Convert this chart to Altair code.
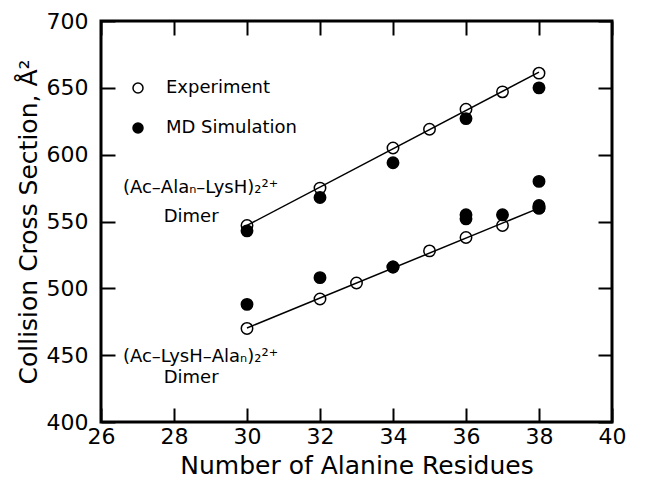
import altair as alt
import pandas as pd

# ---- data ----
residues_upper_exp = [30, 32, 34, 35, 36, 37, 38]
ccs_upper_exp = [547, 575, 605, 619, 634, 647, 661]
residues_upper_md = [30, 32, 34, 36, 38]
ccs_upper_md = [543, 568, 594, 627, 650]
residues_lower_exp = [30, 32, 33, 34, 35, 36, 37, 38]
ccs_lower_exp = [470, 492, 504, 516, 528, 538, 547, 560]
residues_lower_md = [30, 32, 34, 36, 36, 37, 38, 38, 38]
ccs_lower_md = [488, 508, 516, 552, 555, 555, 580, 560, 562]

series_names = ["Experiment", "MD Simulation"]
x_ticks = [26, 28, 30, 32, 34, 36, 38, 40]
y_ticks = [400, 450, 500, 550, 600, 650, 700]

ann_text = ["(Ac\u2013Ala\u2099\u2013LysH)\u2082\u00b2\u207a", "Dimer",
            "(Ac\u2013LysH\u2013Ala\u2099)\u2082\u00b2\u207a", "Dimer"]
ann_x = [26.6, 28.47, 26.6, 28.47]
ann_y = [575, 553, 448.6, 433]
ann_align = ["left", "center", "left", "center"]

rows = []
for xs, ys, s, g in [
    (residues_upper_md, ccs_upper_md, "MD Simulation", "upper"),
    (residues_lower_md, ccs_lower_md, "MD Simulation", "lower"),
    (residues_upper_exp, ccs_upper_exp, "Experiment", "upper"),
    (residues_lower_exp, ccs_lower_exp, "Experiment", "lower"),
]:
    for x, y in zip(xs, ys):
        rows.append({"residues": x, "ccs": y, "series": s, "group": g})
df = pd.DataFrame(rows)

ann_df = pd.DataFrame({"text": ann_text, "x": ann_x, "y": ann_y, "align": ann_align})

FONT = "DejaVu Sans"
W, H = 511, 401
TL = 14

xscale = alt.Scale(domain=[26, 40], nice=False, zero=False)
yscale = alt.Scale(domain=[400, 700], nice=False, zero=False)

common = dict(grid=False, domain=False, ticks=True, tickColor="black", tickWidth=2,
              tickOpacity=1, tickSize=TL, offset=-TL, labelFlush=False, zindex=5)

x_axis = alt.Axis(values=x_ticks, orient="bottom",
                  labelFont=FONT, labelFontSize=22, labelColor="black", labelPadding=4,
                  title="Number of Alanine Residues", titleFont=FONT, titleFontSize=25,
                  titleFontWeight="normal", titleColor="black", titlePadding=6, **common)
y_axis = alt.Axis(values=y_ticks, orient="left",
                  labelFont=FONT, labelFontSize=22, labelColor="black", labelPadding=13,
                  title="Collision Cross Section, \u00c5\u00b2", titleFont=FONT, titleFontSize=25,
                  titleFontWeight="normal", titleColor="black", titlePadding=5, **common)
x_axis_top = alt.Axis(values=x_ticks, orient="top", labels=False, title=None, **common)
y_axis_right = alt.Axis(values=y_ticks, orient="right", labels=False, title=None, **common)

base = alt.Chart(df)

points = base.mark_point(shape="circle", filled=True, stroke="black", strokeWidth=1.5,
                         size=130, opacity=1, fillOpacity=1).encode(
    x=alt.X("residues:Q", scale=xscale, axis=x_axis),
    y=alt.Y("ccs:Q", scale=yscale, axis=y_axis),
    fill=alt.Fill("series:N", scale=alt.Scale(domain=series_names, range=["transparent", "black"]),
                  legend=alt.Legend(title=None, orient="none", legendX=28, legendY=58,
                                    labelFont=FONT, labelFontSize=18, labelColor="black",
                                    symbolType="circle", symbolSize=100,
                                    symbolStrokeColor="black", symbolStrokeWidth=1.5,
                                    labelOffset=19, rowPadding=22, padding=0)),
    order=alt.Order("series:N", sort="descending"),
)

fit = base.transform_filter(alt.datum.series == "Experiment").transform_regression(
    "residues", "ccs", groupby=["group"]
).mark_line(color="black", strokeWidth=1.5).encode(
    x=alt.X("residues:Q", scale=xscale, axis=x_axis_top),
    y=alt.Y("ccs:Q", scale=yscale, axis=y_axis_right),
    detail="group:N",
)

ann_left = alt.Chart(ann_df).transform_filter(alt.datum.align == "left").mark_text(
    font=FONT, fontSize=18, color="black", baseline="middle", align="left").encode(
    x=alt.X("x:Q", scale=xscale, axis=None),
    y=alt.Y("y:Q", scale=yscale, axis=None),
    text="text:N",
)
ann_center = alt.Chart(ann_df).transform_filter(alt.datum.align == "center").mark_text(
    font=FONT, fontSize=18, color="black", baseline="middle", align="center").encode(
    x=alt.X("x:Q", scale=xscale, axis=None),
    y=alt.Y("y:Q", scale=yscale, axis=None),
    text="text:N",
)

chart = alt.layer(
    points, fit, ann_left, ann_center
).resolve_axis(x="independent", y="independent").properties(
    width=W, height=H,
    autosize=alt.AutoSizeParams(type="none"),
    padding={"left": 101, "top": 21, "right": 35, "bottom": 59},
    background="white",
).configure_view(stroke="black", strokeWidth=3)

chart.save("out.html", embed_options={"renderer": "svg", "actions": False})
